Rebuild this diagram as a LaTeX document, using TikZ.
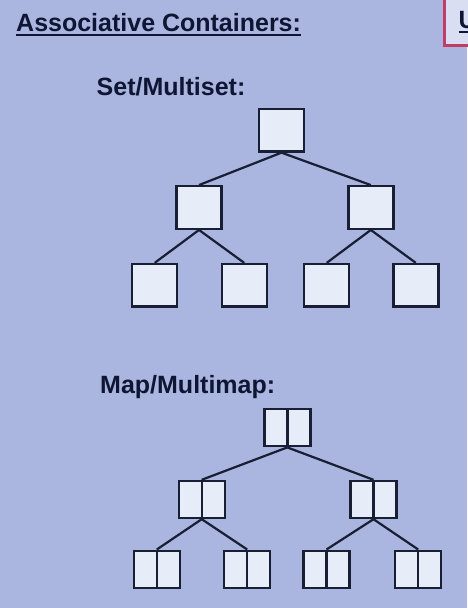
\documentclass[tikz,border=0pt]{standalone}
\usepackage{fontspec}
\setmainfont{Liberation Sans}
\definecolor{bg}{RGB}{170,182,224}
\definecolor{boxfill}{RGB}{230,237,249}
\definecolor{ink}{RGB}{24,30,52}
\definecolor{txt}{RGB}{14,22,52}
\definecolor{redframe}{RGB}{192,62,102}
\definecolor{redfill}{RGB}{218,222,242}
\begin{document}
\begin{tikzpicture}[x=1pt,y=-1pt,
  lbl/.style={anchor=base west,inner sep=0pt,text=txt,font=\fontsize{25}{30}\selectfont\bfseries},
  sbox/.style={draw=ink,fill=boxfill,line width=2.4pt,minimum width=45pt,minimum height=42.5pt,inner sep=0pt},
  pbox/.style={draw=ink,fill=boxfill,line width=2.4pt,minimum width=46pt,minimum height=37pt,inner sep=0pt,
    path picture={\draw[ink,line width=2.4pt] (path picture bounding box.north) -- (path picture bounding box.south);}},
  edge/.style={draw=ink,line width=2.2pt}]
\fill[bg] (0,0) rectangle (467,608);
\useasboundingbox (0,0) rectangle (467,608);

% red frame at top right
\draw[redframe,fill=redfill,line width=3pt] (444,-6) rectangle (485,45);
\node[lbl] (u) at (458.5,28.5) {U};
\draw[txt,line width=2pt] ([yshift=-3.5pt]u.base west) -- ([yshift=-3.5pt,xshift=10pt]u.base east);

% title
\node[lbl] (title) at (16,31.5) {Associative Containers:};
\draw[txt,line width=2.2pt] ([yshift=-3.8pt]title.base west) -- ([yshift=-3.8pt]title.base east);

% Set/Multiset
\node[lbl] (setlbl) at (96.5,95) {Set/Multiset:};
\node[sbox] (s0) at (281.5,130.2) {};
\node[sbox] (s1) at (199,207.5) {};
\node[sbox] (s2) at (370.8,207.5) {};
\node[sbox] (s3) at (154.7,285.3) {};
\node[sbox] (s4) at (244.2,285.3) {};
\node[sbox] (s5) at (326.7,285.3) {};
\node[sbox] (s6) at (415.8,285.3) {};
\draw[edge] (s0.south) -- (s1.north);
\draw[edge] (s0.south) -- (s2.north);
\draw[edge] (s1.south) -- (s3.north);
\draw[edge] (s1.south) -- (s4.north);
\draw[edge] (s2.south) -- (s5.north);
\draw[edge] (s2.south) -- (s6.north);

% Map/Multimap
\node[lbl] (maplbl) at (100,393.5) {Map/Multimap:};
\node[pbox] (m0) at (287.3,427.7) {};
\node[pbox] (m1) at (201.7,499.5) {};
\node[pbox] (m2) at (373.5,499.5) {};
\node[pbox] (m3) at (156.8,569.2) {};
\node[pbox] (m4) at (247.2,569.2) {};
\node[pbox] (m5) at (326.5,569.2) {};
\node[pbox] (m6) at (418.2,569.2) {};
\draw[edge] (m0.south) -- (m1.north);
\draw[edge] (m0.south) -- (m2.north);
\draw[edge] (m1.south) -- (m3.north);
\draw[edge] (m1.south) -- (m4.north);
\draw[edge] (m2.south) -- (m5.north);
\draw[edge] (m2.south) -- (m6.north);
\end{tikzpicture}
\end{document}
